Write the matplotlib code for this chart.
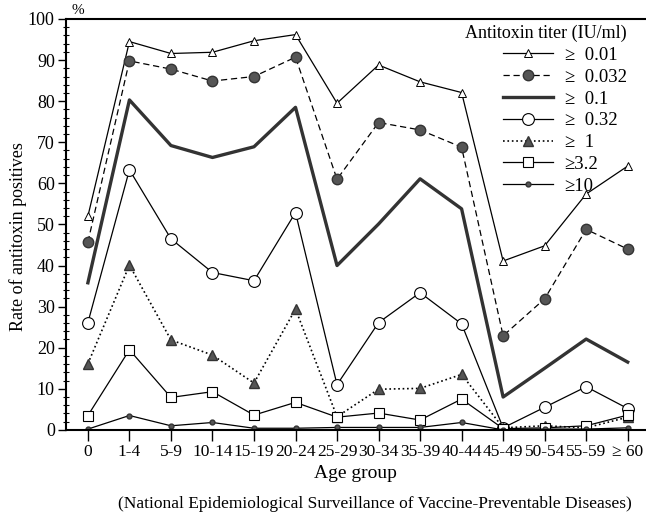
import numpy as np
import matplotlib.pyplot as plt
from matplotlib.ticker import MultipleLocator

plt.rcParams['font.family'] = ['Liberation Serif', 'DejaVu Serif']

# age groups on the x axis
age_groups = ['0', '1-4', '5-9', '10-14', '15-19', '20-24', '25-29', '30-34',
              '35-39', '40-44', '45-49', '50-54', '55-59', '\u2265 60']

# rate of antitoxin positives (%) per titer threshold
t_001 = [52, 94.5, 91.6, 91.9, 94.7, 96.2, 79.5, 88.8, 84.7, 82.1, 41.1, 44.8, 57.4, 64.2]
t_0032 = [45.7, 89.8, 87.8, 84.9, 86.0, 90.7, 61.0, 74.8, 73.0, 68.8, 22.9, 31.9, 48.8, 44.0]
t_01 = [35.8, 80.3, 69.2, 66.3, 68.9, 78.5, 40.0, 50.1, 61.1, 53.8, 8.0, 15.0, 22.1, 16.5]
t_032 = [26.1, 63.3, 46.5, 38.3, 36.3, 52.9, 11.0, 26.1, 33.4, 25.8, 0.5, 5.5, 10.5, 5.2]
t_1 = [16.1, 40.1, 21.9, 18.2, 11.4, 29.4, 3.2, 9.9, 10.1, 13.5, 0.5, 1.0, 0.5, 3.1]
t_32 = [3.5, 19.5, 7.9, 9.3, 3.6, 6.7, 3.1, 4.1, 2.4, 7.5, 0.3, 0.5, 1.0, 3.6]
t_10 = [0.2, 3.5, 1.0, 1.8, 0.4, 0.4, 0.6, 0.6, 0.6, 1.8, 0.0, 0.2, 0.2, 0.5]

x = np.arange(len(age_groups))

fig = plt.figure(figsize=(6.46, 5.13), dpi=100)
ax = fig.add_axes([0.102, 0.162, 0.896, 0.801])

grey = '#555555'
ax.plot(x, t_001, '-', color='black', lw=0.9, marker='^', ms=5.5,
        mfc='white', mec='black', mew=0.7, label='\u2265  0.01')
ax.plot(x, t_0032, '--', color='black', lw=0.9, marker='o', ms=7.5,
        mfc=grey, mec='#333333', dashes=(5, 3), label='\u2265  0.032')
ax.plot(x, t_01, '-', color='#333333', lw=2.4, label='\u2265  0.1')
ax.plot(x, t_032, '-', color='black', lw=0.9, marker='o', ms=8.5,
        mfc='white', mec='black', mew=0.8, label='\u2265  0.32')
ax.plot(x, t_1, ':', color='black', lw=1.2, marker='^', ms=7,
        mfc=grey, mec='#333333', label='\u2265  1')
ax.plot(x, t_32, '-', color='black', lw=0.9, marker='s', ms=7.5,
        mfc='white', mec='black', mew=0.8, label='\u22653.2')
ax.plot(x, t_10, '-', color='black', lw=0.9, marker='o', ms=3.5,
        mfc=grey, mec='#333333', label='\u226510')

ax.set_xlim(-0.53, 13.41)
ax.set_ylim(0, 100)
ax.set_xticks(x)
ax.set_xticklabels(age_groups, fontsize=12.5)
ax.yaxis.set_major_locator(MultipleLocator(10))
ax.yaxis.set_minor_locator(MultipleLocator(2))
ax.tick_params(axis='y', which='major', direction='out', length=6, width=1,
               labelsize=13, pad=2)
ax.tick_params(axis='y', which='minor', direction='inout', length=4, width=0.8)
ax.tick_params(axis='x', which='major', direction='out', length=8, width=1, pad=2)

ax.spines['right'].set_visible(False)
for s in ['left', 'bottom', 'top']:
    ax.spines[s].set_linewidth(1.5)

ax.set_ylabel('Rate of antitoxin positives', fontsize=13)
ax.yaxis.set_label_coords(-0.068, 0.47)
ax.set_xlabel('Age group', fontsize=14, labelpad=4)
ax.text(-0.4, 100.6, '%', fontsize=11, ha='left', va='bottom')

leg = ax.legend(loc='upper right', bbox_to_anchor=(0.998, 1.027), frameon=False,
                title='Antitoxin titer (IU/ml)', fontsize=13.5, title_fontsize=13,
                handlelength=2.7, labelspacing=0.25, handletextpad=0.6)
leg._legend_box.align = 'right'

fig.text(0.58, 0.018, '(National Epidemiological Surveillance of Vaccine-Preventable Diseases)',
         ha='center', va='center', fontsize=12.5)

fig.savefig('out.png', dpi=100)
